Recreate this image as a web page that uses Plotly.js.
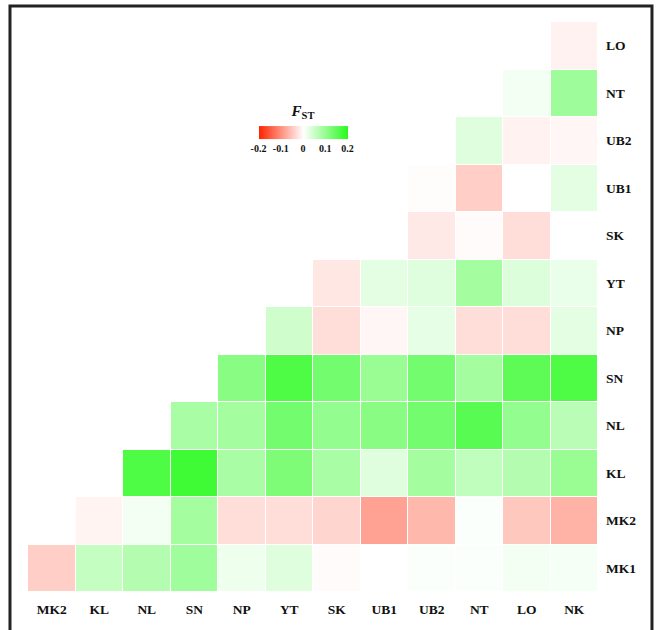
<!DOCTYPE html>
<html>
<head>
<meta charset="utf-8">
<script src="https://cdn.plot.ly/plotly-3.0.1.min.js"></script>
<style>html,body{margin:0;padding:0;background:#fff;}#chart{width:657px;height:630px;}</style>
</head>
<body>
<div id="chart"></div>
<script>
const cols = ['MK2','KL','NL','SN','NP','YT','SK','UB1','UB2','NT','LO','NK'];
const rows = ['LO','NT','UB2','UB1','SK','YT','NP','SN','NL','KL','MK2','MK1'];
// pairwise FST per row, listed for the filled columns (right-aligned, ending at NK)
const rowLO  = [-0.012];
const rowNT  = [0.012, 0.09];
const rowUB2 = [0.03, -0.012, -0.008];
const rowUB1 = [-0.002, -0.045, 0.0, 0.025];
const rowSK  = [0.0, -0.02, -0.004, -0.03, 0.0];
const rowYT  = [-0.022, 0.025, 0.03, 0.085, 0.033, 0.02];
const rowNP  = [0.045, -0.03, -0.008, 0.022, -0.03, -0.03, 0.025];
const rowSN  = [0.11, 0.165, 0.13, 0.095, 0.13, 0.085, 0.15, 0.165];
const rowNL  = [0.08, 0.085, 0.13, 0.1, 0.11, 0.13, 0.155, 0.1, 0.065];
const rowKL  = [0.165, 0.18, 0.08, 0.12, 0.08, 0.03, 0.085, 0.06, 0.07, 0.095];
const rowMK2 = [-0.01, 0.012, 0.085, -0.03, -0.03, -0.038, -0.085, -0.065, 0.004, -0.05, -0.07];
const rowMK1 = [-0.045, 0.055, 0.07, 0.088, 0.015, 0.03, -0.004, 0.0, 0.004, 0.004, 0.01, 0.008];
const rowData = [rowLO,rowNT,rowUB2,rowUB1,rowSK,rowYT,rowNP,rowSN,rowNL,rowKL,rowMK2,rowMK1];
const tickVals = [-0.2,-0.1,0,0.1,0.2];
const tickText = ['-0.2','-0.1','0','0.1','0.2'];

const z = rowData.map(r => {
  const pad = new Array(cols.length - r.length).fill(null);
  return pad.concat(r);
});

const font = {family:'"Liberation Serif", "Times New Roman", serif', color:'#111'};
const trace = {
  type:'heatmap', x:cols, y:rows, z:z,
  zmin:-0.2, zmax:0.2,
  colorscale:[[0,'rgb(255,35,0)'],[0.5,'rgb(255,255,255)'],[1,'rgb(40,250,30)']],
  xgap:1, ygap:1, hoverongaps:false,
  colorbar:{
    orientation:'h', x:0.4825, xanchor:'center', y:0.813, yanchor:'middle',
    len:0.156, lenmode:'fraction', thickness:13, outlinewidth:0, xpad:0,
    tickvals:tickVals, ticktext:tickText, ticks:'', tickangle:0,
    tickfont:{family:font.family, size:10, color:'#111', weight:'bold'},
    title:{text:'<b><i>F</i></b><sub><b>ST</b></sub>', side:'top', font:{family:font.family, size:15, color:'#111'}}
  }
};
const layout = {
  width:657, height:630,
  margin:{l:28, r:59, t:22, b:38},
  paper_bgcolor:'#fff', plot_bgcolor:'#fff',
  xaxis:{type:'category', showgrid:false, zeroline:false, showline:false, ticks:'',
    tickfont:{family:font.family, size:13.5, color:'#111', weight:'bold'}, ticklabelstandoff:7, fixedrange:true},
  yaxis:{type:'category', autorange:'reversed', side:'right', showgrid:false, zeroline:false, showline:false, ticks:'',
    tickfont:{family:font.family, size:13.5, color:'#111', weight:'bold'}, ticklabelstandoff:7, fixedrange:true},
  shapes:[{type:'rect', xref:'paper', yref:'paper', x0:-0.0316, x1:1.0947, y0:-0.2, y1:1.028,
    line:{color:'#222', width:3}, fillcolor:'rgba(0,0,0,0)', layer:'below'}]
};
Plotly.newPlot('chart', [trace], layout, {displayModeBar:false, staticPlot:true});
</script>
</body>
</html>
